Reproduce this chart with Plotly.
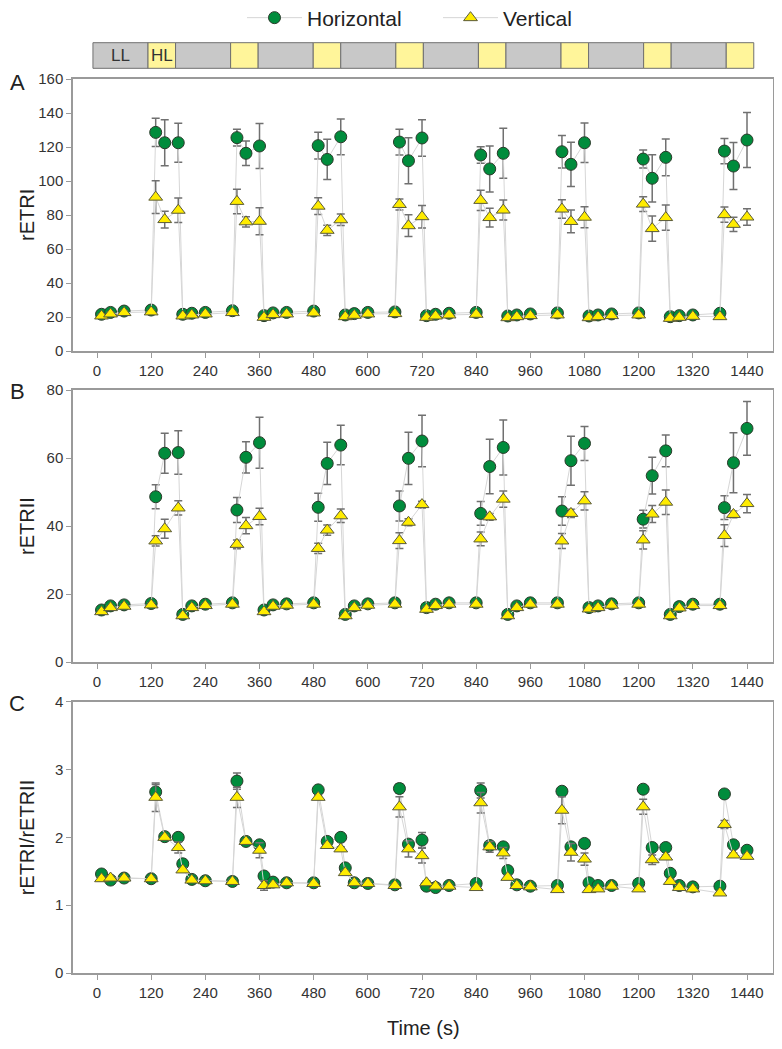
import plotly.graph_objects as go

# ---------------- data ----------------
time_s = [10, 30, 60, 120, 130, 150, 180,
          190, 210, 240, 300, 310, 330, 360,
          370, 390, 420, 480, 490, 510, 540,
          550, 570, 600, 660, 670, 690, 720,
          730, 750, 780, 840, 850, 870, 900,
          910, 930, 960, 1020, 1030, 1050, 1080,
          1090, 1110, 1140, 1200, 1210, 1230, 1260,
          1270, 1290, 1320, 1380, 1390, 1410, 1440]

# Panel A: rETRI
etr1_h = [21.6, 22.7, 23.5, 24.1, 128.6, 122.5, 122.5,
          21.6, 22.2, 22.7, 23.7, 125.5, 116.3, 120.6,
          20.8, 22.4, 22.7, 23.5, 120.8, 112.7, 126.0,
          21.2, 22.0, 22.7, 23.0, 122.9, 111.9, 125.3,
          20.8, 21.6, 22.2, 22.7, 115.3, 107.1, 116.3,
          20.6, 21.2, 21.8, 22.4, 117.2, 109.8, 122.5,
          20.6, 21.2, 21.8, 22.4, 112.9, 101.6, 113.9,
          20.2, 20.8, 21.2, 22.2, 117.6, 108.8, 124.1]
etr1_h_err = [1.0, 1.0, 1.0, 1.0, 8.3, 13.6, 11.4,
              1.0, 1.0, 1.0, 1.0, 4.9, 7.2, 13.2,
              1.0, 1.0, 1.0, 1.0, 7.9, 11.8, 10.5,
              1.0, 1.0, 1.0, 1.0, 7.6, 13.5, 10.8,
              1.0, 1.0, 1.0, 1.0, 4.9, 13.5, 14.7,
              1.0, 1.0, 1.0, 1.0, 9.6, 13.0, 11.6,
              1.0, 1.0, 1.0, 1.0, 5.3, 13.9, 10.8,
              1.0, 1.0, 1.0, 1.0, 7.4, 13.8, 16.2]
etr1_v = [20.6, 21.8, 22.6, 23.0, 90.5, 77.3, 82.8,
          20.6, 21.2, 21.8, 22.6, 88.0, 76.0, 76.3,
          19.8, 21.4, 21.8, 22.4, 85.2, 71.0, 77.2,
          20.2, 21.0, 21.8, 22.0, 86.2, 73.7, 79.0,
          19.8, 20.6, 21.2, 21.6, 88.6, 78.5, 82.9,
          19.6, 20.2, 20.8, 21.2, 83.5, 76.2, 78.7,
          19.6, 20.2, 20.8, 21.2, 86.4, 72.0, 78.5,
          19.2, 19.8, 20.4, 20.2, 80.2, 74.5, 78.8]
etr1_v_err = [1.0, 1.0, 1.0, 1.0, 9.6, 4.9, 7.2,
              1.0, 1.0, 1.0, 1.0, 7.2, 3.0, 7.9,
              1.0, 1.0, 1.0, 1.0, 4.9, 3.0, 3.4,
              1.0, 1.0, 1.0, 1.0, 3.2, 6.4, 6.6,
              1.0, 1.0, 1.0, 1.0, 6.0, 5.5, 5.9,
              1.0, 1.0, 1.0, 1.0, 5.4, 6.7, 6.2,
              1.0, 1.0, 1.0, 1.0, 4.4, 7.4, 7.4,
              1.0, 1.0, 1.0, 1.0, 4.5, 4.2, 4.9]

# Panel B: rETRII
etr2_h = [15.3, 16.5, 16.8, 17.2, 48.6, 61.4, 61.6,
          14.0, 16.5, 17.0, 17.4, 44.7, 60.2, 64.5,
          15.3, 16.8, 17.1, 17.4, 45.5, 58.4, 63.8,
          14.0, 16.5, 17.1, 17.4, 45.9, 59.9, 65.0,
          16.0, 17.0, 17.4, 17.4, 43.7, 57.5, 63.1,
          14.0, 16.5, 17.4, 17.4, 44.4, 59.2, 64.3,
          16.0, 16.5, 17.1, 17.4, 42.0, 54.8, 62.1,
          14.0, 16.3, 17.0, 17.0, 45.4, 58.6, 68.7]
etr2_h_err = [0.6, 0.6, 0.6, 0.6, 3.5, 5.9, 6.4,
              0.6, 0.6, 0.6, 0.6, 3.7, 4.6, 7.5,
              0.6, 0.6, 0.6, 0.6, 4.1, 6.2, 5.8,
              0.6, 0.6, 0.6, 0.6, 4.4, 7.7, 7.6,
              0.6, 0.6, 0.6, 0.6, 3.5, 8.0, 8.1,
              0.6, 0.6, 0.6, 0.6, 4.2, 7.2, 5.0,
              0.6, 0.6, 0.6, 0.6, 2.6, 5.4, 4.7,
              0.6, 0.6, 0.6, 0.6, 3.5, 8.8, 7.9]
etr2_v = [14.8, 16.0, 16.4, 16.8, 35.6, 39.2, 45.3,
          13.6, 16.0, 16.6, 17.0, 34.6, 40.1, 42.8,
          14.8, 16.4, 16.7, 17.0, 33.4, 38.8, 43.0,
          13.6, 16.0, 16.7, 17.0, 35.7, 41.1, 46.3,
          15.5, 16.6, 17.0, 17.0, 36.2, 42.7, 47.9,
          13.6, 16.0, 17.0, 17.0, 35.6, 43.7, 47.4,
          15.6, 16.0, 16.7, 17.0, 35.9, 43.5, 47.0,
          13.6, 15.9, 16.6, 16.6, 37.2, 43.4, 46.6]
etr2_v_err = [0.6, 0.6, 0.6, 0.6, 1.5, 2.8, 2.1,
              0.6, 0.6, 0.6, 0.6, 1.3, 2.4, 2.4,
              0.6, 0.6, 0.6, 0.6, 1.5, 1.5, 2.0,
              0.6, 0.6, 0.6, 0.6, 2.3, 1.0, 1.0,
              0.6, 0.6, 0.6, 0.6, 2.0, 1.0, 2.4,
              0.6, 0.6, 0.6, 0.6, 2.2, 1.2, 2.7,
              0.6, 0.6, 0.6, 0.6, 2.7, 2.5, 3.6,
              0.6, 0.6, 0.6, 0.6, 3.2, 1.0, 2.7]

# Panel C: rETRI/rETRII
ratio_h = [1.46, 1.37, 1.40, 1.39, 2.67, 2.01, 2.00,
           1.61, 1.38, 1.36, 1.35, 2.83, 1.94, 1.89,
           1.43, 1.34, 1.33, 1.33, 2.70, 1.94, 2.00,
           1.55, 1.33, 1.32, 1.30, 2.72, 1.90, 1.96,
           1.28, 1.26, 1.29, 1.32, 2.69, 1.88, 1.86,
           1.51, 1.30, 1.28, 1.29, 2.68, 1.86, 1.91,
           1.33, 1.29, 1.29, 1.32, 2.71, 1.85, 1.85,
           1.47, 1.29, 1.27, 1.28, 2.64, 1.89, 1.81]
ratio_h_err = [0.03, 0.03, 0.03, 0.03, 0.11, 0.03, 0.03,
               0.03, 0.03, 0.03, 0.03, 0.12, 0.03, 0.03,
               0.03, 0.03, 0.03, 0.03, 0.03, 0.03, 0.03,
               0.03, 0.03, 0.03, 0.03, 0.07, 0.03, 0.11,
               0.03, 0.03, 0.03, 0.03, 0.11, 0.05, 0.03,
               0.03, 0.03, 0.03, 0.03, 0.03, 0.03, 0.03,
               0.03, 0.03, 0.03, 0.03, 0.03, 0.05, 0.03,
               0.03, 0.03, 0.03, 0.03, 0.03, 0.03, 0.03]
ratio_v = [1.39, 1.40, 1.40, 1.39, 2.59, 2.00, 1.85,
           1.52, 1.37, 1.36, 1.35, 2.59, 1.94, 1.81,
           1.29, 1.30, 1.33, 1.32, 2.59, 1.88, 1.83,
           1.48, 1.33, 1.32, 1.29, 2.45, 1.83, 1.73,
           1.33, 1.28, 1.28, 1.26, 2.51, 1.86, 1.77,
           1.41, 1.29, 1.27, 1.23, 2.40, 1.78, 1.68,
           1.23, 1.24, 1.28, 1.24, 2.45, 1.67, 1.71,
           1.35, 1.26, 1.24, 1.18, 2.19, 1.74, 1.72]
ratio_v_err = [0.03, 0.03, 0.03, 0.03, 0.21, 0.03, 0.08,
               0.03, 0.03, 0.03, 0.03, 0.15, 0.03, 0.11,
               0.07, 0.03, 0.03, 0.03, 0.03, 0.03, 0.03,
               0.03, 0.03, 0.03, 0.03, 0.15, 0.12, 0.11,
               0.03, 0.03, 0.03, 0.03, 0.15, 0.08, 0.08,
               0.03, 0.03, 0.03, 0.03, 0.20, 0.13, 0.09,
               0.03, 0.03, 0.03, 0.03, 0.11, 0.07, 0.03,
               0.03, 0.03, 0.03, 0.03, 0.06, 0.03, 0.03]

# Light regime schedule (top bar)
phase_labels = ["LL", "HL", "LL", "HL", "LL", "HL", "LL", "HL",
                "LL", "HL", "LL", "HL", "LL", "HL", "LL", "HL"]
phase_start = [0, 120, 180, 300, 360, 480, 540, 660,
               720, 840, 900, 1020, 1080, 1200, 1260, 1380]
phase_end = [120, 180, 300, 360, 480, 540, 660, 720,
             840, 900, 1020, 1080, 1200, 1260, 1380, 1440]
x_ticks = [0, 120, 240, 360, 480, 600, 720, 840, 960, 1080, 1200, 1320, 1440]
y_titles = ["rETRI", "rETRII", "rETRI/rETRII"]
panel_letters = ["A", "B", "C"]

# ---------------- styling ----------------
FONT = "Liberation Sans, Arial, sans-serif"
GREEN = "#008c3c"
YELLOW = "#ffec00"
LINE_C = "#d6d6d6"
ERR_C = "#707070"
AXIS_C = "#9a9a9a"

# the page body adds an 8 px margin; size the figure so it fills the 782x1049 view
OFF = 8
W, H = 782 - 2 * OFF, 1049 - 2 * OFF
# plot area in page pixels: x 73..773, y 79..973
ML = 73 - OFF
MR = W - (773 - OFF)
MT = 79 - OFF
MB = H - (973 - OFF)
PH = H - MT - MB
PW = W - ML - MR


def py(page_y):  # page pixel row -> paper y
    return (H - MB - (page_y - OFF)) / PH


def px_x(page_x):  # page pixel column -> paper x
    return (page_x - OFF - ML) / PW


domains = [[py(351), 1.0], [py(662), py(390)], [0.0, py(701.7)]]
y_ranges = [[0, 160], [0, 80], [0, 4]]
y_dticks = [20, 20, 1]
x_range = [-53.2, 1497.6]

panels = [(etr1_h, etr1_h_err, etr1_v, etr1_v_err),
          (etr2_h, etr2_h_err, etr2_v, etr2_v_err),
          (ratio_h, ratio_h_err, ratio_v, ratio_v_err)]

fig = go.Figure()
for i, (h, he, v, ve) in enumerate(panels):
    sfx = "" if i == 0 else str(i + 1)
    fig.add_trace(go.Scatter(
        x=time_s, y=h, mode="lines+markers", name="Horizontal",
        xaxis="x" + sfx, yaxis="y" + sfx, showlegend=(i == 0),
        line=dict(color=LINE_C, width=1),
        marker=dict(symbol="circle", size=12, color=GREEN,
                    line=dict(color="#2a3a2a", width=1)),
        error_y=dict(type="data", array=he, visible=True, color=ERR_C,
                     thickness=1.5, width=4)))
    fig.add_trace(go.Scatter(
        x=time_s, y=v, mode="lines+markers", name="Vertical",
        xaxis="x" + sfx, yaxis="y" + sfx, showlegend=(i == 0),
        line=dict(color=LINE_C, width=1),
        marker=dict(symbol="triangle-up", size=12, color=YELLOW,
                    line=dict(color="#5a5a3a", width=1)),
        error_y=dict(type="data", array=ve, visible=True, color=ERR_C,
                     thickness=1.5, width=4)))

layout = dict(
    width=W, height=H,
    margin=dict(l=ML, r=MR, t=MT, b=MB, pad=0, autoexpand=False),
    paper_bgcolor="white", plot_bgcolor="white",
    font=dict(family=FONT, size=15, color="#333333"),
    legend=dict(orientation="h", x=px_x(242), xanchor="left",
                y=py(18), yanchor="middle", itemwidth=55,
                font=dict(size=21, color="#222222"),
                entrywidth=126, entrywidthmode="pixels",
                bgcolor="rgba(0,0,0,0)"),
)
for i in range(3):
    sfx = "" if i == 0 else str(i + 1)
    layout["xaxis" + sfx] = dict(
        range=x_range, anchor="y" + sfx, domain=[0, 1],
        tickmode="array", tickvals=x_ticks, ticks="outside", ticklen=5,
        tickcolor=AXIS_C, showline=True, linecolor=AXIS_C, linewidth=1.5,
        mirror=True, showgrid=False, zeroline=False,
        tickfont=dict(size=15, color="#333333"))
    layout["yaxis" + sfx] = dict(
        range=y_ranges[i], domain=domains[i], anchor="x" + sfx,
        dtick=y_dticks[i], ticks="outside", ticklen=5, tickcolor=AXIS_C,
        showline=True, linecolor=AXIS_C, linewidth=1.5, mirror=True,
        showgrid=False, zeroline=False,
        tickfont=dict(size=15, color="#333333"))
fig.update_layout(**layout)

annotations = []
letter_rows = [82, 392, 703]
title_rows = [(79 + 351) / 2, (390 + 662) / 2, (701.7 + 973) / 2]
for i in range(3):
    annotations.append(dict(text=panel_letters[i], x=px_x(17), y=py(letter_rows[i]),
                            xref="paper", yref="paper", showarrow=False,
                            xanchor="center", yanchor="middle",
                            font=dict(size=22, color="#222222")))
    annotations.append(dict(text=y_titles[i], x=px_x(27), y=py(title_rows[i]),
                            xref="paper", yref="paper", showarrow=False,
                            textangle=-90, xanchor="center", yanchor="middle",
                            font=dict(size=20, color="#222222")))
annotations.append(dict(text="Time (s)", x=px_x(423), y=py(1028), xref="paper", yref="paper",
                        showarrow=False, xanchor="center", yanchor="middle",
                        font=dict(size=20, color="#222222")))


# top light-regime bar (drawn slightly wider than the axis, as in the original)
def bar_x(t):
    return -9.0 + t * (1455.0 + 9.0) / 1440.0


shapes = []
for lab, s, e in zip(phase_labels, phase_start, phase_end):
    shapes.append(dict(type="rect", xref="x", yref="paper",
                       x0=bar_x(s), x1=bar_x(e), y0=py(68.3), y1=py(42.7),
                       fillcolor="#c8c8c8" if lab == "LL" else "#fff59a",
                       line=dict(color="#707070", width=1), layer="above"))
annotations.append(dict(text="LL", x=(bar_x(0) + bar_x(120)) / 2, y=py(55.5),
                        xref="x", yref="paper", showarrow=False,
                        xanchor="center", yanchor="middle",
                        font=dict(size=17, color="#333333")))
annotations.append(dict(text="HL", x=(bar_x(120) + bar_x(180)) / 2, y=py(55.5),
                        xref="x", yref="paper", showarrow=False,
                        xanchor="center", yanchor="middle",
                        font=dict(size=17, color="#333333")))
fig.update_layout(annotations=annotations, shapes=shapes)

fig.write_html("out.html")
